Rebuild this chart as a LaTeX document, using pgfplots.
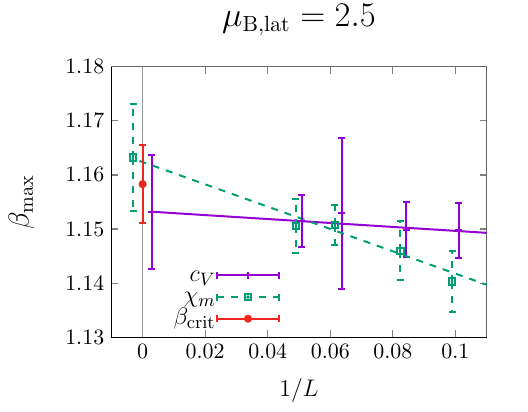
\documentclass[border=0pt]{standalone}
\usepackage{pgfplots}
\pgfplotsset{compat=1.18}
\definecolor{gpviolet}{HTML}{9400D3}
\definecolor{gpgreen}{HTML}{009E73}
\definecolor{gpred}{RGB}{238,38,30}
\pgfdeclareplotmark{sqdot}{%
  \pgfpathrectangle{\pgfpoint{-\pgfplotmarksize}{-\pgfplotmarksize}}{\pgfpoint{2\pgfplotmarksize}{2\pgfplotmarksize}}%
  \pgfusepathqstroke
  \pgfpathcircle{\pgfpointorigin}{0.3pt}%
  \pgfusepathqfill}
\begin{document}
\begin{tikzpicture}
\path[use as bounding box] (-55.65pt,-36.85pt) rectangle (208.35pt,168.65pt);
\begin{axis}[
  name=ax,
  at={(0,0)}, anchor=south west,
  scale only axis,
  width=187.7pt, height=135.3pt,
  xmin=-0.01, xmax=0.11,
  ymin=1.13, ymax=1.18,
  xtick={0,0.02,0.04,0.06,0.08,0.1},
  ytick={1.13,1.14,1.15,1.16,1.17,1.18},
  yticklabel style={/pgf/number format/.cd,fixed,precision=2,fixed zerofill},
  xticklabel style={/pgf/number format/.cd,fixed,precision=2},
  scaled ticks=false,
  tick label style={font=\fontsize{11}{13}\selectfont},
  axis line style={black!60},
  tick style={black!50, line width=0.6pt},
  major tick length=3.5pt,
  xlabel={$1/L$},
  ylabel={$\beta_{\max}$},
  xlabel style={font=\fontsize{12}{14}\selectfont, at={(rel axis cs:0.5,0)}, anchor=north, yshift=-17pt},
  ylabel style={font=\fontsize{14}{16}\selectfont, at={(rel axis cs:0,0.5)}, anchor=south, yshift=35pt},
  title={$\mu_{\mathrm{B,lat}} = 2.5$},
  title style={font=\fontsize{16}{19}\selectfont, at={(rel axis cs:0.5,1)}, anchor=south, yshift=6pt},
  legend plot pos=right,
  legend cell align=right,
  legend style={at={(rel axis cs:0.455,0.02)}, anchor=south east, draw=none, fill=none,
    font=\fontsize{13}{15}\selectfont, row sep=0pt, inner sep=1pt,
    nodes={inner sep=0.3pt, text height=8pt, text depth=2.2pt}},
]
% x = 0 line
\addplot[black!40, line width=0.9pt, forget plot] coordinates {(0,1.13) (0,1.18)};

% c_V
\addplot[gpviolet, line width=1pt, mark=+, mark size=1.75pt, only marks,
  error bars/.cd, y dir=both, y explicit,
  error mark options={gpviolet, rotate=90, mark size=1.75pt, line width=1pt},
  error bar style={gpviolet, line width=1pt},
  /pgfplots/legend image code/.code={%
    \draw[gpviolet, line width=1pt] (0cm,0cm) -- (30.7pt,0cm);
    \draw[gpviolet, line width=1pt] (0cm,-1.75pt) -- (0cm,1.75pt);
    \draw[gpviolet, line width=1pt] (30.7pt,-1.75pt) -- (30.7pt,1.75pt);
    \draw[gpviolet, line width=1pt] (15.35pt,-1.75pt) -- (15.35pt,1.75pt);}]
coordinates {
  (0.0030,1.1532) +- (0,0.0105)
  (0.0508,1.1515) +- (0,0.0048)
  (0.0636,1.1529) +- (0,0.0140)
  (0.0843,1.1499) +- (0,0.0051)
  (0.1011,1.1498) +- (0,0.0051)
};
\addlegendentry{$c_V$}
\addplot[gpviolet, line width=1pt, forget plot] coordinates {(0.0030,1.1532) (0.11,1.1493)};

% chi_m
\addplot[gpgreen, line width=1pt, mark=sqdot, mark size=1.6pt, only marks,
  error bars/.cd, y dir=both, y explicit,
  error mark options={gpgreen, rotate=90, mark size=1.75pt, line width=1pt, solid},
  error bar style={gpgreen, line width=1pt, dash pattern=on 3.5pt off 3.5pt},
  /pgfplots/legend image code/.code={%
    \draw[gpgreen, line width=1pt, dash pattern=on 3.5pt off 3.5pt] (0cm,0cm) -- (30.7pt,0cm);
    \draw[gpgreen, line width=1pt] (0cm,-1.75pt) -- (0cm,1.75pt);
    \draw[gpgreen, line width=1pt] (30.7pt,-1.75pt) -- (30.7pt,1.75pt);
    \fill[white] (13.75pt,-1.6pt) rectangle (16.95pt,1.6pt);
    \draw[gpgreen, line width=1pt] (13.75pt,-1.6pt) rectangle (16.95pt,1.6pt);
    \fill[gpgreen] (15.35pt,0) circle (0.3pt);}]
coordinates {
  (-0.0030,1.1632) +- (0,0.0099)
  (0.0490,1.1506) +- (0,0.0050)
  (0.0615,1.1508) +- (0,0.0037)
  (0.0824,1.1460) +- (0,0.0054)
  (0.0990,1.1403) +- (0,0.0056)
};
\addlegendentry{$\chi_m$}
\addplot[gpgreen, line width=1pt, dash pattern=on 3.5pt off 3.5pt, forget plot]
  coordinates {(-0.0010,1.1626) (0.11,1.1397)};

% beta_crit
\addplot[gpred, line width=1pt, mark=*, mark size=1.5pt, only marks,
  error bars/.cd, y dir=both, y explicit,
  error mark options={gpred, rotate=90, mark size=1.75pt, line width=1pt},
  error bar style={gpred, line width=1pt},
  /pgfplots/legend image code/.code={%
    \draw[gpred, line width=1pt] (0cm,0cm) -- (30.7pt,0cm);
    \draw[gpred, line width=1pt] (0cm,-1.75pt) -- (0cm,1.75pt);
    \draw[gpred, line width=1pt] (30.7pt,-1.75pt) -- (30.7pt,1.75pt);
    \fill[gpred] (15.35pt,0) circle (1.5pt);}]
coordinates {
  (0,1.1583) +- (0,0.0072)
};
\addlegendentry{$\beta_{\mathrm{crit}}$}
\end{axis}
\draw[black, line width=0.6pt] (ax.north west) -- (ax.south west) -- (ax.south east);
\end{tikzpicture}
\end{document}
